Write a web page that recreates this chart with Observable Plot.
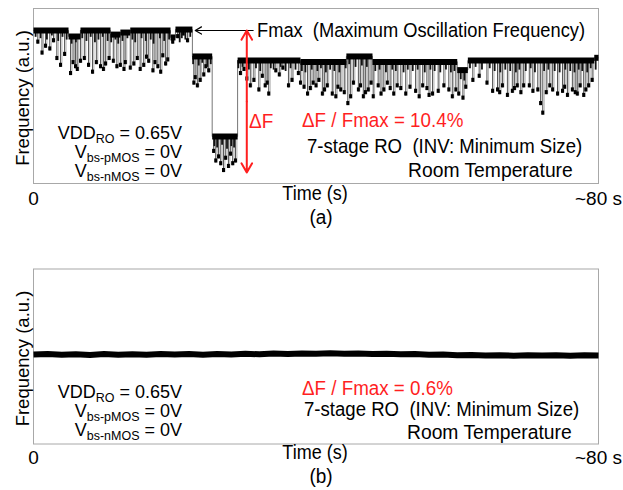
<!DOCTYPE html>
<html><head><meta charset="utf-8">
<script src="https://cdn.jsdelivr.net/npm/d3@7"></script>
<script src="https://cdn.jsdelivr.net/npm/@observablehq/plot@0.6"></script>
<style>
body{margin:0;background:#fff;}
#wrap{position:relative;width:623px;height:490px;}
#wrap svg{display:block;}
</style></head><body><div id="wrap"></div>
<script>
// ---- x axis ticks ----
const xTicks = [0, 80];
const xTickLabels = ["0", "~80 s"];

// ---- Panel (a): RTN trace, level segments (start s, end s, normalized frequency) ----
const segT0 = [0, 4.96, 6.65, 10.9, 12.3, 13.7, 19.4, 20.1, 22.5, 25.3, 28.9, 37.8, 44.3, 48.0, 60.0, 61.5, 79.4];
const segT1 = [4.96, 6.65, 10.9, 12.3, 13.7, 19.4, 20.1, 22.5, 25.3, 28.9, 37.8, 44.3, 48.0, 60.0, 61.5, 79.4, 80];
const segF  = [1.000, 0.9956, 1.000, 0.997, 0.9985, 1.000, 0.9949, 1.0007, 0.981, 0.9224, 0.978, 0.977, 0.981, 0.977, 0.971, 0.978, 0.980];

// deep downward RTN spikes (time s, lowest normalized frequency)
const spikeT = [0.6,1.2,1.70,2.3,2.83,3.3,3.82,4.4,5.24,5.6,5.95,6.2,6.65,7.2,7.79,8.35,8.9,9.49,9.9,10.2,10.7,11.3,11.8,12.3,12.8,13.0,13.7,14.2,14.7,15.1,15.6,16.0,16.3,16.9,17.2,17.6,18.0,18.3,18.7,19.0,19.7,20.4,21.2,21.8,
  22.7,22.9,23.2,23.6,24.1,24.4,24.8,
  25.5,25.8,26.2,26.5,26.9,27.2,27.6,27.9,28.2,28.6,
  29.3,29.8,30.2,30.7,31.2,31.9,32.4,32.8,33.1,33.3,34.3,34.8,35.3,36.1,36.6,37.5,37.8,38.3,38.8,39.2,39.6,40.0,40.4,40.9,41.2,41.6,42.3,42.8,43.1,43.5,44.0,44.5,44.9,45.3,46.0,46.3,46.7,47.0,47.4,47.8,48.1,48.8,49.2,49.6,50.1,50.5,51.0,51.5,
  52.0,52.7,53.3,54.1,54.6,55.1,55.7,56.0,56.5,57.3,58.1,58.8,59.3,59.8,60.2,60.8,61.2,62.2,63.1,64.2,65.0,65.7,66.0,66.4,67.1,67.8,68.1,68.5,69.0,69.4,70.2,70.7,71.4,71.8,72.1,72.6,73.1,73.5,74.2,74.9,75.2,75.6,76.3,76.7,77.0,77.4,77.9,78.2,78.6,79.1];
const spikeF = [0.990,0.982,0.987,0.985,0.991,0.978,0.973,0.981,0.967,0.975,0.972,0.970,0.976,0.978,0.973,0.968,0.975,0.972,0.970,0.974,0.978,0.976,0.972,0.973,0.970,0.975,0.971,0.974,0.978,0.970,0.973,0.979,0.976,0.969,0.975,0.972,0.968,0.980,0.974,0.977,0.990,0.994,0.996,0.991,
  0.960,0.964,0.958,0.962,0.966,0.972,0.969,
  0.910,0.903,0.906,0.901,0.896,0.905,0.899,0.908,0.901,0.903,
  0.967,0.970,0.963,0.958,0.962,0.955,0.965,0.958,0.960,0.952,0.969,0.966,0.971,0.958,0.962,0.967,0.960,0.957,0.952,0.956,0.960,0.958,0.962,0.952,0.955,0.958,0.952,0.950,0.957,0.955,0.953,0.945,0.950,0.960,0.955,0.958,0.950,0.953,0.955,0.960,0.950,0.958,0.952,0.955,0.960,0.956,0.952,0.958,
  0.956,0.952,0.957,0.954,0.950,0.958,0.956,0.951,0.952,0.954,0.958,0.955,0.950,0.955,0.952,0.949,0.957,0.962,0.965,0.960,0.954,0.955,0.953,0.958,0.951,0.954,0.956,0.958,0.953,0.958,0.958,0.954,0.955,0.945,0.938,0.953,0.958,0.955,0.952,0.954,0.957,0.951,0.955,0.953,0.952,0.958,0.951,0.955,0.958,0.962];

// shallow fluctuations just below each level (time s, normalized frequency)
const fuzzT = [0.3,1.0,1.9,2.6,3.5,4.1,4.7,5.4,6.0,6.9,7.5,8.1,8.7,9.2,9.8,10.5,11.0,11.6,12.0,12.6,13.3,14.0,14.4,15.3,15.9,16.6,17.0,17.9,18.5,19.2,20.7,21.0,21.5,22.2,
  22.6,23.4,23.9,24.6,25.1,
  25.6,26.0,26.7,27.4,28.0,28.4,
  29.0,29.6,30.5,31.5,32.1,33.6,34.0,35.0,35.7,36.4,37.1,38.0,38.5,39.4,40.2,40.7,41.4,42.0,42.6,43.3,44.2,44.7,45.6,46.5,47.2,48.4,49.0,49.9,50.8,51.3,52.4,53.0,53.7,54.4,55.4,56.2,56.8,57.6,58.4,59.1,59.6,60.5,61.0,61.8,62.6,63.5,64.6,65.3,66.1,66.8,67.5,68.3,68.8,69.7,70.4,71.0,72.3,72.9,73.8,74.5,75.3,76.0,76.6,77.2,77.7,78.4,78.9,79.6];
const fuzzF = [0.995,0.994,0.993,0.996,0.992,0.995,0.993,0.990,0.991,0.994,0.992,0.995,0.991,0.993,0.995,0.992,0.991,0.993,0.990,0.992,0.994,0.993,0.991,0.994,0.992,0.993,0.990,0.994,0.992,0.993,0.991,0.994,0.993,0.995,
  0.975,0.974,0.976,0.973,0.975,
  0.915,0.914,0.916,0.913,0.915,0.914,
  0.972,0.973,0.971,0.972,0.970,0.972,0.971,0.973,0.970,0.972,0.971,0.970,0.969,0.971,0.970,0.972,0.969,0.971,0.970,0.969,0.972,0.975,0.973,0.974,0.973,0.970,0.971,0.969,0.971,0.970,0.969,0.971,0.970,0.971,0.969,0.971,0.970,0.969,0.971,0.969,0.970,0.964,0.963,0.972,0.973,0.971,0.972,0.970,0.969,0.971,0.970,0.969,0.971,0.970,0.972,0.969,0.970,0.971,0.970,0.969,0.971,0.970,0.969,0.971,0.970,0.969,0.972,0.971];

// ---- Panel (b): flat trace ----
const bT = [0,2,4,6,8,10,12,14,16,18,20,22,24,26,28,30,32,34,36,38,40,42,44,46,48,50,52,54,56,58,60,62,64,66,68,70,72,74,76,78,80];
const bF = [1.0000,1.0003,0.9998,1.0002,0.9997,1.0003,0.9999,1.0002,0.9998,1.0003,1.0000,1.0004,0.9999,1.0004,1.0001,1.0005,1.0002,1.0007,1.0004,1.0008,1.0005,1.0009,1.0006,1.0008,1.0004,1.0006,1.0002,1.0004,0.9998,1.0000,0.9994,0.9997,0.9992,0.9995,0.9991,0.9994,0.9992,0.9995,0.9991,0.9994,0.9993];

// ---- annotation anchors (data units) ----
const fmaxArrowT = [31.1, 22.9];
const dFArrowT = 30.2;

const FONT = '"Liberation Sans", Arial, sans-serif';
const RED = "#ff1f1f";

function levelAt(t) {
  for (let i = 0; i < segT0.length; i++) if (t >= segT0[i] && t < segT1[i]) return segF[i];
  return segF[segF.length - 1];
}
const segRows = segT0.flatMap((t0, i) => [{t: t0, f: segF[i], s: i}, {t: segT1[i], f: segF[i], s: i}]);
const spikes = spikeT.map((t, i) => ({t, top: levelAt(t), bottom: spikeF[i]}));
const fuzz = fuzzT.map((t, i) => ({t, top: levelAt(t), bottom: fuzzF[i]}));
const fmax = segF[0];
const fmin = d3.min(spikeF);

const xAxis = (pad) => Plot.axisX({ticks: xTicks, tickFormat: d => xTickLabels[xTicks.indexOf(d)], tickSize: 0, tickPadding: pad, label: null, fontSize: 19});
const yLabel = Plot.text(["Frequency (a.u.)"], {frameAnchor: "left", rotate: -90, dx: -10, dy: 2, textAnchor: "middle", lineAnchor: "middle", fontSize: 18.5});

const plotA = Plot.plot({
  width: 623, height: 245,
  marginTop: 8, marginLeft: 33, marginRight: 25, marginBottom: 62,
  x: {domain: [0, 80]},
  y: {domain: [0.888, 1.0161], axis: null},
  style: {fontFamily: FONT, fontSize: "19px", color: "#000", background: "white"},
  marks: [
    Plot.frame({stroke: "#a8a8a8"}),
    xAxis(8),
    yLabel,
    Plot.line(segRows, {x: "t", y: "f", stroke: "#777", strokeWidth: 1}),
    Plot.ruleX(spikes, {x: "t", y1: "top", y2: "bottom", stroke: "#555", strokeWidth: 1}),
    Plot.ruleX(spikes, {x: d => d.t + 0.2, y1: "top", y2: "bottom", stroke: "#999", strokeWidth: 0.8}),
    Plot.ruleX(spikes, {x: "t", y1: "bottom", y2: d => d.bottom + 0.003, stroke: "#000", strokeWidth: 3}),
    Plot.ruleX(fuzz, {x: "t", y1: "top", y2: "bottom", stroke: "#111", strokeWidth: 1.8}),
    Plot.line(segRows, {x: "t", y: "f", z: "s", stroke: "#000", strokeWidth: 6, strokeLinecap: "butt"}),
    Plot.arrow([0], {x1: fmaxArrowT[0], x2: fmaxArrowT[1], y1: fmax, y2: fmax, stroke: "#000", strokeWidth: 1.2, headLength: 9}),
    Plot.arrow([0], {x1: dFArrowT, x2: dFArrowT, y1: (fmax + fmin) / 2, y2: fmax, stroke: RED, strokeWidth: 2, headLength: 8}),
    Plot.arrow([0], {x1: dFArrowT, x2: dFArrowT, y1: (fmax + fmin) / 2, y2: fmin, stroke: RED, strokeWidth: 2, headLength: 8})
  ]
});

const plotB = Plot.plot({
  width: 623, height: 245,
  marginTop: 23.5, marginLeft: 33, marginRight: 25, marginBottom: 46.5,
  x: {domain: [0, 80]},
  y: {domain: [0.9345, 1.0626], axis: null},
  style: {fontFamily: FONT, fontSize: "19px", color: "#000", background: "white"},
  marks: [
    Plot.frame({stroke: "#a8a8a8"}),
    xAxis(6),
    yLabel,
    Plot.line(bT.map((t, i) => ({t, f: bF[i]})), {x: "t", y: "f", stroke: "#000", strokeWidth: 6, strokeLinecap: "butt"})
  ]
});

function addText(svg, x, y, parts, opts = {}) {
  const sy = opts.sy || 1.08;
  const t = d3.select(svg).append("text")
    .attr("transform", `translate(${x},${y}) scale(1,${sy})`)
    .attr("font-family", FONT)
    .attr("font-size", opts.size || 19)
    .attr("fill", opts.fill || "#000")
    .attr("text-anchor", opts.anchor || "start");
  let shifted = false;
  for (const p of parts) {
    const [str, sub] = Array.isArray(p) ? p : [p, false];
    const ts = t.append("tspan").text(str);
    if (sub && !shifted) { ts.attr("dy", 4).attr("font-size", 12.5); shifted = true; }
    else if (sub) ts.attr("font-size", 12.5);
    else if (!sub && shifted) { ts.attr("dy", -4); shifted = false; }
  }
}
const SP2 = "\u00A0 ";
function condLines(svg, y0) {
  const o = {anchor: "end", size: 18, sy: 1.02};
  addText(svg, 182, y0, ["VDD", ["RO", true], " = 0.65V"], o);
  addText(svg, 182, y0 + 19, ["V", ["bs-pMOS", true], " = 0V"], o);
  addText(svg, 182, y0 + 38, ["V", ["bs-nMOS", true], " = 0V"], o);
}

addText(plotA, 257, 37, ["Fmax" + SP2 + "(Maximum Oscillation Frequency)"], {size: 18.3, sy: 1.12});
addText(plotA, 249, 128, ["\u0394F"], {fill: RED, size: 19, sy: 1.1});
addText(plotA, 302, 127, ["\u0394F / Fmax = " + ((fmax - fmin) / fmax * 100).toFixed(1) + "%"], {fill: RED, size: 18.8, sy: 1.1});
addText(plotA, 307, 153, ["7-stage RO" + SP2 + "(INV: Minimum Size)"], {size: 18.6, sy: 1.1});
addText(plotA, 408, 177, ["Room Temperature"], {size: 19.3, sy: 1.08});
condLines(plotA, 139);
addText(plotA, 315, 200, ["Time (s)"], {anchor: "middle", size: 18});
addText(plotA, 321, 224, ["(a)"], {anchor: "middle", size: 19});

addText(plotB, 302, 150, ["\u0394F / Fmax = 0.6%"], {fill: RED, size: 18.8, sy: 1.06});
addText(plotB, 304, 171, ["7-stage RO" + SP2 + "(INV: Minimum Size)"], {size: 18.6, sy: 1.04});
addText(plotB, 407, 193.5, ["Room Temperature"], {size: 19.3, sy: 1.04});
condLines(plotB, 153);
addText(plotB, 315, 214, ["Time (s)"], {anchor: "middle", size: 18});
addText(plotB, 321, 238, ["(b)"], {anchor: "middle", size: 19});

document.getElementById("wrap").append(plotA, plotB);
</script></body></html>
